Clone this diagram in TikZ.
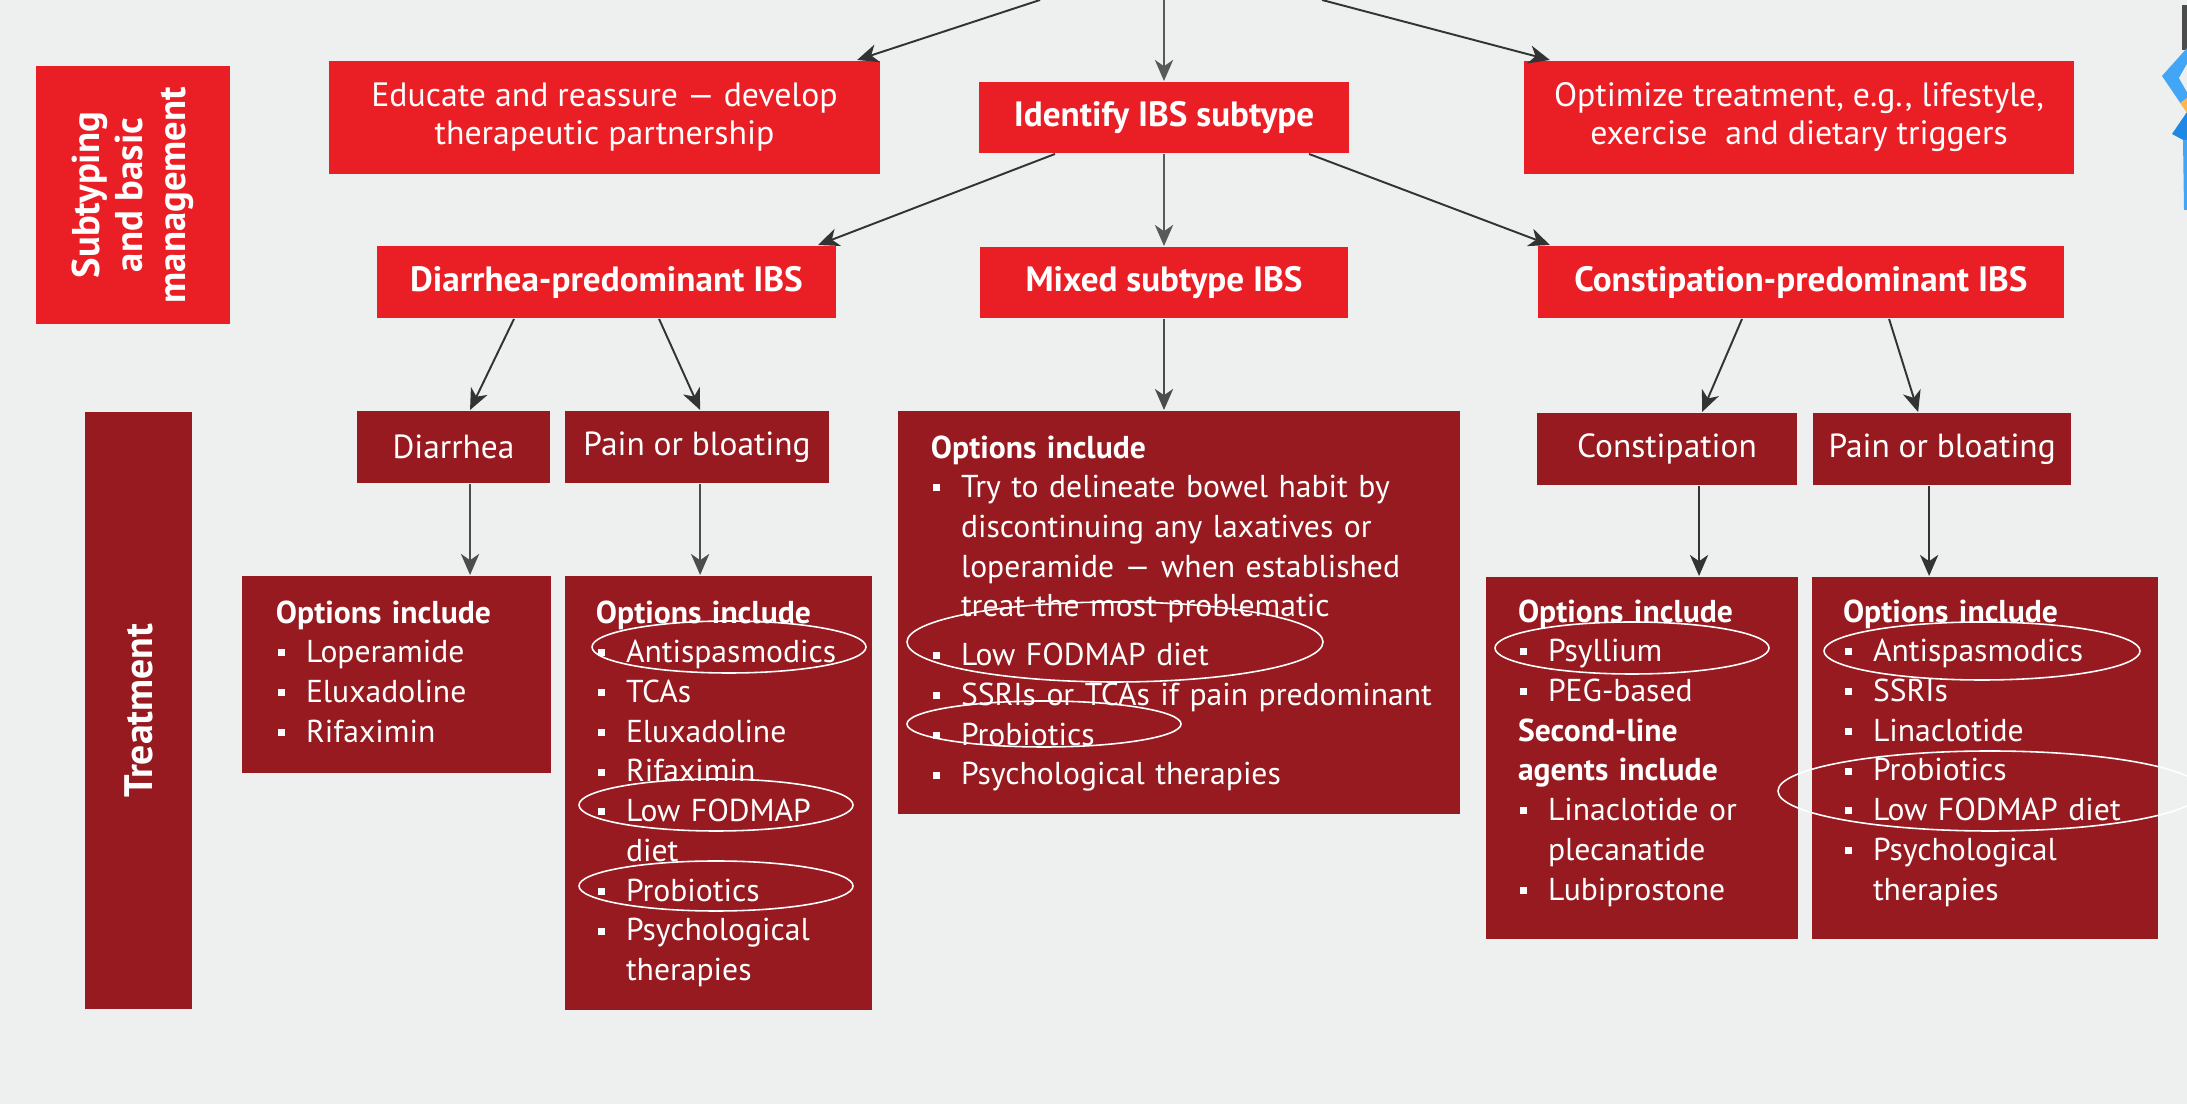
\documentclass[tikz,border=0pt]{standalone}
\usepackage{fontspec}
\setmainfont{PT Sans}
\usepackage{tikz}
\usetikzlibrary{positioning}
\usetikzlibrary{shapes}
\usetikzlibrary{arrows.meta}
\usepackage{xcolor}
\definecolor{ibsred}{RGB}{234,30,37}
\definecolor{ibsdark}{RGB}{150,26,31}
\definecolor{ibsbg}{RGB}{238,239,239}
\definecolor{logoblue}{RGB}{66,165,245}
\definecolor{logodark}{RGB}{30,136,229}
\definecolor{logoorange}{RGB}{255,183,77}
\tikzstyle{R} = [rectangle,fill=ibsred,text=white,inner sep=0pt,align=center]
\tikzstyle{D} = [rectangle,fill=ibsdark,text=white,inner sep=0pt,align=center]
\tikzstyle{T} = [text=white,inner sep=0pt,align=left,text width=5.3cm,anchor=base west,font=\fontsize{9}{11.3}\selectfont]
\tikzstyle{O} = [draw=white,line width=0.45pt]
\tikzset{>={Stealth[length=6pt,width=5.2pt,inset=1.8pt]}}
\newcommand{\bl}{\makebox[0.3cm][l]{\hspace{0.5pt}\raisebox{0.2em}{\rule{0.22em}{0.22em}}}}
\newcommand{\cl}{\hspace*{0.3cm}}

\begin{document}
\begin{tikzpicture}[x=0.01cm,y=-0.01cm,line width=0.55pt]
  \fill [ibsbg] (0,0) rectangle (2187,1104);
  \useasboundingbox (0,0) rectangle (2187,1104);
  \clip (0,0) rectangle (2187,1104);

  % row labels
  \node [R,rotate=90,minimum width=2.58cm,minimum height=1.94cm,font=\bfseries\fontsize{11}{12.2}\selectfont] (sub) at (133,195) {Subtyping\\and basic\\management};
  \node [D,rotate=90,minimum width=5.97cm,minimum height=1.07cm,font=\bfseries\fontsize{11.3}{12}\selectfont] (treat) at (138.5,710.5) {Treatment};

  % first row
  \coordinate (srcL) at (1040,0);
  \coordinate (srcC) at (1164,0);
  \coordinate (srcR) at (1322,0);
  \node [R,minimum width=5.51cm,minimum height=1.13cm,font=\fontsize{9.6}{10.8}\selectfont] (edu) at (604.5,117.5) {Educate and reassure --- develop\\therapeutic partnership};
  \node [R,minimum width=3.69cm,minimum height=0.71cm,font=\bfseries\fontsize{10}{12}\selectfont] (ident) at (1164,117.5) {Identify IBS subtype};
  \node [R,minimum width=5.50cm,minimum height=1.13cm,font=\fontsize{9.6}{10.8}\selectfont] (opti) at (1799,117.5) {Optimize treatment, e.g., lifestyle,\\exercise\ \ and dietary triggers};

  \draw [->,black!80] (srcL) -- ([xshift=-0.24cm]edu.north east);
  \draw [->,black!65] (srcC) -- (srcC |- ident.north);
  \draw [->,black!80] (srcR) -- ([xshift=0.27cm]opti.north west);

  % subtypes
  \node [R,minimum width=4.59cm,minimum height=0.72cm,font=\bfseries\fontsize{10}{12}\selectfont] (dpred) at (606.5,282) {Diarrhea-predominant IBS};
  \node [R,minimum width=3.67cm,minimum height=0.71cm,font=\bfseries\fontsize{10}{12}\selectfont] (mixed) at (1164,282.5) {Mixed subtype IBS};
  \node [R,minimum width=5.26cm,minimum height=0.72cm,font=\bfseries\fontsize{10}{12}\selectfont] (cpred) at (1801,282) {Constipation-predominant IBS};

  \draw [->,black!80] ([xshift=0.765cm]ident.south west) -- ([xshift=-0.19cm]dpred.north east);
  \draw [->,black!65] (ident) -- (mixed);
  \draw [->,black!80] ([xshift=-0.405cm]ident.south east) -- ([xshift=0.13cm]cpred.north west);

  % symptoms
  \node [D,minimum width=1.93cm,minimum height=0.72cm,font=\fontsize{9.5}{12}\selectfont] (diar) at (453.5,447) {Diarrhea};
  \node [D,minimum width=2.64cm,minimum height=0.72cm,font=\fontsize{9.5}{12}\selectfont,right=0.13cm of diar] (painD) {Pain or bloating};
  \node [D,minimum width=2.60cm,minimum height=0.72cm,font=\fontsize{9.5}{12}\selectfont] (const) at (1667,449) {Constipation};
  \node [D,minimum width=2.58cm,minimum height=0.72cm,font=\fontsize{9.5}{12}\selectfont,right=0.14cm of const] (painC) {Pain or bloating};

  \draw [->,black!80] ([xshift=1.38cm]dpred.south west) -- ([xshift=1.14cm]diar.north west);
  \draw [->,black!80] ([xshift=2.83cm]dpred.south west) -- ([xshift=1.36cm]painD.north west);
  \draw [->,black!80] ([xshift=2.05cm]cpred.south west) -- ([xshift=1.66cm]const.north west);
  \draw [->,black!80] ([xshift=3.52cm]cpred.south west) -- ([xshift=1.06cm]painC.north west);

  % option boxes
  \node [D,minimum width=3.09cm,minimum height=1.97cm,anchor=north west] (optD) at (241,575) {};
  \node [D,minimum width=3.07cm,minimum height=4.34cm,anchor=north west] (optPD) at (564,575) {};
  \node [D,minimum width=5.62cm,minimum height=4.03cm,anchor=north west] (optM) at (897,410) {};
  \node [D,minimum width=3.12cm,minimum height=3.62cm,anchor=north west] (optC) at (1485,576) {};
  \node [D,minimum width=3.46cm,minimum height=3.62cm,anchor=north west] (optPC) at (1811,576) {};

  \coordinate (a1) at ([xshift=1.14cm]diar.south west);
  \coordinate (a2) at ([xshift=1.36cm]painD.south west);
  \coordinate (a3) at ([xshift=1.63cm]const.south west);
  \coordinate (a4) at ([xshift=1.17cm]painC.south west);
  \draw [->,black!70] (a1) -- (a1 |- optD.north);
  \draw [->,black!70] (a2) -- (a2 |- optPD.north);
  \draw [->,black!70] (mixed.south) -- (mixed.south |- optM.north);
  \draw [->,black!80] (a3) -- (a3 |- optC.north);
  \draw [->,black!80] (a4) -- (a4 |- optPC.north);

  \node [T] (txtD) at ([xshift=0.34cm,yshift=-0.48cm]optD.north west) {{\bfseries Options include}\\
    \bl Loperamide\\
    \bl Eluxadoline\\
    \bl Rifaximin};
  \node [T] (txtPD) at ([xshift=0.31cm,yshift=-0.48cm]optPD.north west) {{\bfseries Options include}\\
    \bl Antispasmodics\\
    \bl TCAs\\
    \bl Eluxadoline\\
    \bl Rifaximin\\
    \bl Low FODMAP\\
    \cl diet\\
    \bl Probiotics\\
    \bl Psychological\\
    \cl therapies};
  \node [T] (txtM) at ([xshift=0.33cm,yshift=-0.48cm]optM.north west) {{\bfseries Options include}\\
    \bl Try to delineate bowel habit by\\
    \cl discontinuing any laxatives or\\
    \cl loperamide --- when established\\
    \cl treat the most problematic\\[0.09cm]
    \bl Low FODMAP diet\\
    \bl SSRIs or TCAs if pain predominant\\
    \bl Probiotics\\
    \bl Psychological therapies};
  \node [T] (txtC) at ([xshift=0.32cm,yshift=-0.46cm]optC.north west) {{\bfseries Options include}\\
    \bl Psyllium\\
    \bl PEG-based\\
    {\bfseries Second-line}\\
    {\bfseries agents include}\\
    \bl Linaclotide or\\
    \cl plecanatide\\
    \bl Lubiprostone};
  \node [T] (txtPC) at ([xshift=0.31cm,yshift=-0.46cm]optPC.north west) {{\bfseries Options include}\\
    \bl Antispasmodics\\
    \bl SSRIs\\
    \bl Linaclotide\\
    \bl Probiotics\\
    \bl Low FODMAP diet\\
    \bl Psychological\\
    \cl therapies};

  % hand drawn loops
  \draw [O] (729,647) ellipse [x radius=137,y radius=26];
  \draw [O] (716,805) ellipse [x radius=137,y radius=26];
  \draw [O] (716,886) ellipse [x radius=137,y radius=25];
  \draw [O] (1115,642) ellipse [x radius=208,y radius=40];
  \draw [O] (1044,724) ellipse [x radius=137,y radius=23];
  \draw [O] (1632,648) ellipse [x radius=137,y radius=26];
  \draw [O] (1982,651) ellipse [x radius=158,y radius=29];
  \draw [O] (1990,791) ellipse [x radius=212,y radius=40];

  % logo cut at the edge
  \fill [black!70] (2182,5) rectangle (2187,50);
  \fill [logoblue] (2187,48) -- (2162,76) -- (2181,104) -- (2187,100) -- cycle;
  \fill [ibsbg] (2187,64) -- (2179,78) -- (2187,92) -- cycle;
  \fill [logoorange] (2180,103) -- (2187,98) -- (2187,113) -- cycle;
  \fill [logodark] (2172,134) -- (2187,112) -- (2187,142) -- cycle;
  \fill [logoblue] (2183,140) -- (2187,140) -- (2187,210) -- (2184,210) -- cycle;
\end{tikzpicture}
\end{document}
